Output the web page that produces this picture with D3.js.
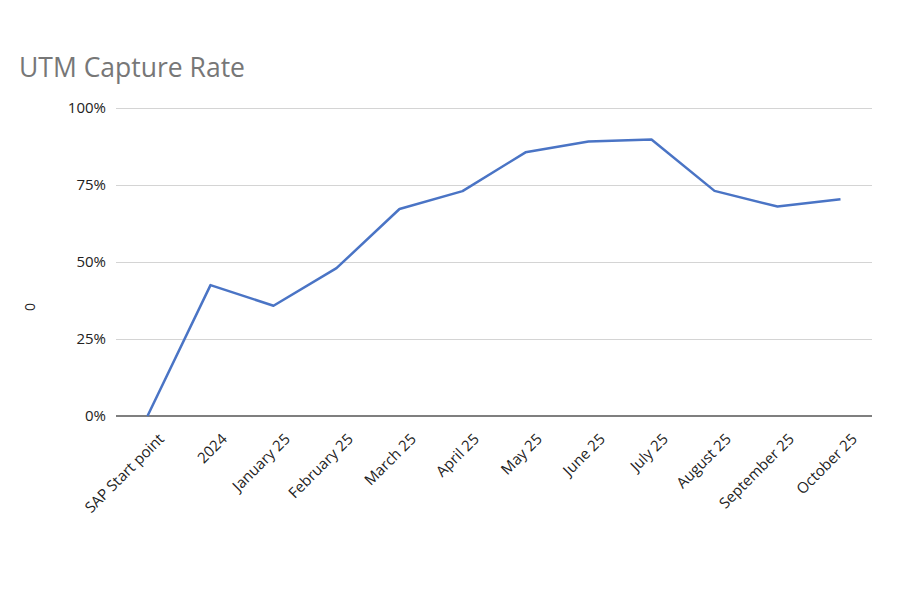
<!DOCTYPE html>
<html><head><meta charset="utf-8">
<script src="https://cdn.jsdelivr.net/npm/d3@7"></script>
<style>body{margin:0;background:#fff}svg{display:block}</style>
</head><body>
<script>
const categories = ["SAP Start point","2024","January 25","February 25","March 25","April 25","May 25","June 25","July 25","August 25","September 25","October 25"];
const values = [0, 0.425, 0.358, 0.48, 0.672, 0.73, 0.856, 0.891, 0.898, 0.731, 0.68, 0.704];
const yTicks = [0, 0.25, 0.5, 0.75, 1];
const title = "UTM Capture Rate";
const yTitle = "0";

const W = 900, H = 600;
const m = {left:116, right:28, top:108, bottom:184};
const svg = d3.select("body").append("svg").attr("width",W).attr("height",H);
const font = "'Open Sans', 'Liberation Sans', sans-serif";

const x = d3.scalePoint().domain(categories).range([m.left, W-m.right]).padding(0.5);
const y = d3.scaleLinear().domain([0,1]).range([H-m.bottom, m.top]);

svg.append("text").attr("x",19).attr("y",77).text(title)
  .attr("font-family",font).attr("font-size",26.5).attr("fill","#777");

// grid
svg.append("g").selectAll("line").data(yTicks.filter(d=>d>0)).join("line")
  .attr("x1",m.left).attr("x2",W-m.right).attr("y1",d=>y(d)).attr("y2",d=>y(d))
  .attr("stroke","#d4d4d4").attr("stroke-width",1).attr("shape-rendering","crispEdges");

// y axis
const ya = svg.append("g").attr("transform",`translate(${m.left},0)`)
  .call(d3.axisLeft(y).tickValues(yTicks).tickFormat(d3.format(".0%")).tickSize(0).tickPadding(10));
ya.select(".domain").remove();
ya.selectAll("text").attr("font-family",font).attr("font-size",15).attr("fill","#222");

// x axis
const xa = svg.append("g").attr("transform",`translate(0,${y(0)})`)
  .call(d3.axisBottom(x).tickSize(0).tickPadding(0));
xa.select(".domain").attr("d",`M${m.left},0H${W-m.right}`).attr("stroke","#555").attr("stroke-width",1.3);
xa.selectAll("text").attr("font-family",font).attr("font-size",15).attr("fill","#222")
  .attr("text-anchor","end").attr("dy",null)
  .attr("transform","translate(17,24) rotate(-45)");

svg.append("text").attr("transform",`translate(35,307) rotate(-90)`)
  .attr("text-anchor","middle").attr("font-family",font).attr("font-size",14).attr("fill","#222").text(yTitle);

const line = d3.line().x((d,i)=>x(categories[i])).y(d=>y(d));
svg.append("path").datum(values).attr("d",line).attr("fill","none")
  .attr("stroke","#4a74c5").attr("stroke-width",2.5).attr("stroke-linejoin","round");
</script>
</body></html>
